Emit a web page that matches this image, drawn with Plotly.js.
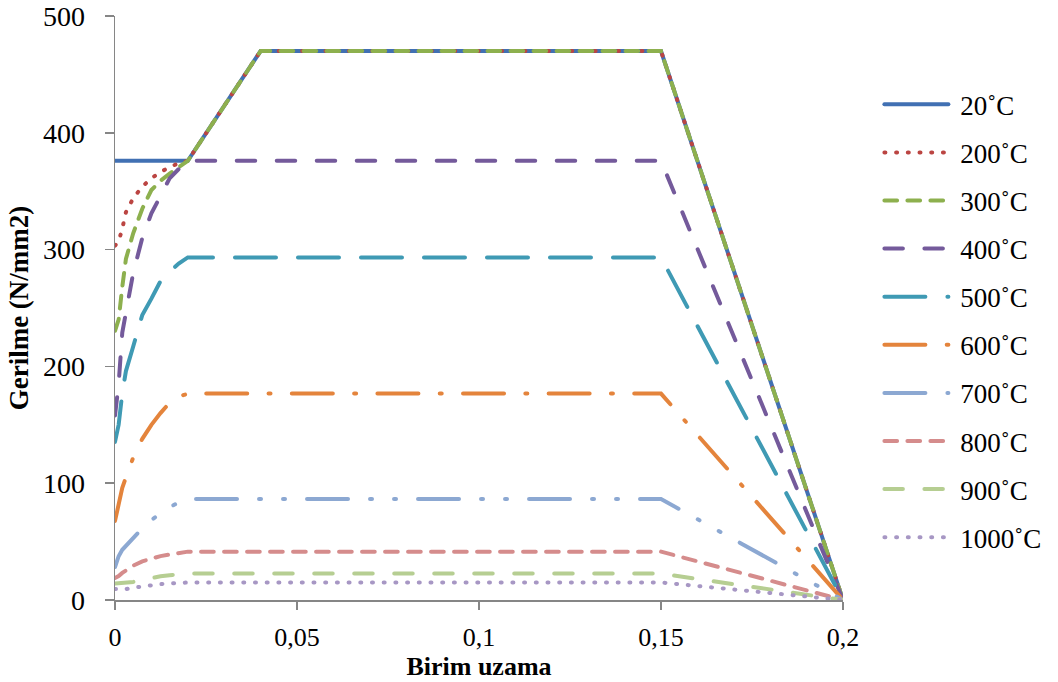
<!DOCTYPE html>
<html>
<head>
<meta charset="utf-8">
<script src="https://cdn.plot.ly/plotly-3.0.1.min.js"></script>
<style>
  html, body { margin: 0; padding: 0; background: #ffffff; }
  #chart { width: 1058px; height: 682px; }
  .js-line { stroke-linecap: round; }
</style>
</head>
<body>
<div id="chart"></div>
<script>
// Strain values (Birim uzama)
const x20 = [0, 0.02, 0.04, 0.15, 0.2];
const xHard = [0, 0.001, 0.002, 0.003, 0.005, 0.0075, 0.01, 0.0125, 0.015, 0.0175, 0.02, 0.04, 0.15, 0.2];
const xSoft = [0, 0.001, 0.002, 0.003, 0.005, 0.0075, 0.01, 0.0125, 0.015, 0.0175, 0.02, 0.15, 0.2];

// Stress values (Gerilme, N/mm2)
const y20   = [376, 376, 470, 470, 0];
const y200  = [303.4, 307, 318, 332, 344, 354, 361, 366.5, 370.5, 374, 376, 470, 470, 0];
const y300  = [230.5, 240, 268, 292, 314, 335, 351, 359, 365, 371, 376, 470, 470, 0];
const y400  = [157.9, 185, 229, 246, 280, 310, 331, 346, 361, 369, 376, 376, 0];
const y500  = [135.4, 150, 177, 196, 217, 244, 258, 273, 281, 288, 293.3, 293.3, 0];
const y600  = [67.7, 84, 96, 105, 122, 138, 150, 160, 169, 174, 176.7, 176.7, 0];
const y700  = [28.2, 37.5, 43, 46.5, 54, 61.5, 68.5, 74.5, 79.5, 83.5, 86.5, 86.5, 0];
const y800  = [18.8, 20.5, 23.2, 25.5, 29.4, 33.1, 35.5, 37.6, 38.9, 40.1, 41.4, 41.4, 0];
const y900  = [14.1, 14.3, 14.6, 15.0, 15.5, 17.0, 19.0, 20.3, 21.2, 22.0, 22.6, 22.6, 0];
const y1000 = [9.4, 9.2, 9.0, 9.3, 10.5, 11.8, 12.8, 13.6, 14.2, 14.7, 15.0, 15.0, 0];

const seriesNames = ["20˚C", "200˚C", "300˚C", "400˚C", "500˚C", "600˚C", "700˚C", "800˚C", "900˚C", "1000˚C"];
const xTickVals = [0, 0.05, 0.1, 0.15, 0.2];
const xTickText = ["0", "0,05", "0,1", "0,15", "0,2"];
const yTickVals = [0, 100, 200, 300, 400, 500];

const seriesX = [x20, xHard, xHard, xSoft, xSoft, xSoft, xSoft, xSoft, xSoft, xSoft];
const seriesY = [y20, y200, y300, y400, y500, y600, y700, y800, y900, y1000];
const colors = ["#4170B3", "#BB4542", "#8DB04E", "#745A9B", "#3F9AB4", "#E4843C", "#8CA8D2", "#D58C8C", "#B6CE92", "#A797C4"];
const dashes = [
  "solid",
  "1px,10.7px",
  "12.7px,10.3px",
  "18.5px,21.5px",
  "41px,22px",
  "41px,21.3px,2px,21.3px",
  "41px,22px,2px,22px,2px,22px",
  "12.7px,10.3px",
  "18.5px,21.5px",
  "1px,10.7px"
];

const traces = seriesNames.map((name, i) => ({
  type: "scatter",
  mode: "lines",
  name: "\u00A0" + name,
  x: seriesX[i],
  y: seriesY[i],
  legendgroup: "g" + i,
  line: { color: colors[i], width: 4, dash: dashes[i] },
  hoverinfo: "skip"
}));

const font = "Liberation Serif";

const layout = {
  width: 1058,
  height: 682,
  margin: { l: 115, r: 211, t: 16, b: 82 },
  paper_bgcolor: "#ffffff",
  plot_bgcolor: "#ffffff",
  font: { family: font, size: 27, color: "#000000" },
  showlegend: true,
  legend: {
    x: 1.05, xanchor: "left",
    y: 0.89, yanchor: "top",
    font: { family: font, size: 27, color: "#000000" },
    tracegroupgap: 10,
    itemwidth: 64,
    bgcolor: "rgba(0,0,0,0)"
  },
  xaxis: {
    range: [0, 0.2],
    tickvals: xTickVals,
    ticktext: xTickText,
    showgrid: false,
    zeroline: false,
    showline: true,
    linecolor: "#868686",
    linewidth: 1.5,
    ticks: "outside",
    ticklen: 8,
    tickwidth: 1.5,
    tickcolor: "#868686",
    ticklabelstandoff: 5,
    tickfont: { family: font, size: 26, color: "#000000" },
    title: { text: "<b>Birim uzama</b>", font: { family: font, size: 26, color: "#000000" }, standoff: 4 }
  },
  yaxis: {
    range: [0, 500],
    tickvals: yTickVals,
    showgrid: false,
    zeroline: false,
    showline: true,
    linecolor: "#868686",
    linewidth: 1.5,
    ticks: "outside",
    ticklen: 9,
    tickwidth: 1.5,
    tickcolor: "#868686",
    ticklabelstandoff: 14,
    tickfont: { family: font, size: 28, color: "#000000" },
    title: { text: "<b>Gerilme (N/mm2)</b>", font: { family: font, size: 27, color: "#000000" }, standoff: 6 }
  }
};

Plotly.newPlot("chart", traces, layout, { displayModeBar: false, staticPlot: true });
</script>
</body>
</html>
